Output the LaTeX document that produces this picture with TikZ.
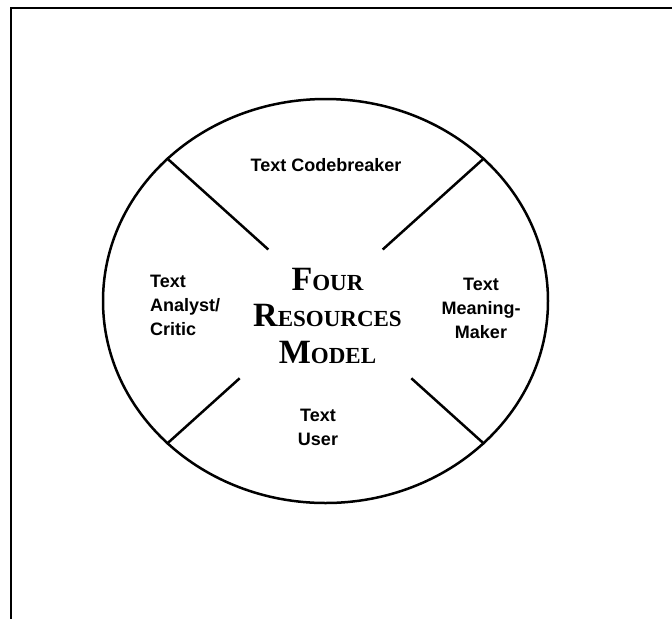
\documentclass[tikz,border=0pt]{standalone}
\usepackage{fontspec}
\setmainfont{Liberation Serif}
\setsansfont{Liberation Sans}
\usetikzlibrary{calc,shapes}

% big capital followed by small capitals
\newcommand{\capsc}[2]{{\fontsize{34}{36.5}\selectfont #1}{\fontsize{23}{36.5}\selectfont #2}}

\begin{document}
\begin{tikzpicture}[x=1pt,y=-1pt,line width=2.5pt,
	role/.style={font=\sffamily\bfseries\fontsize{18}{24}\selectfont, anchor=base, align=center}]
	\useasboundingbox (0,0) rectangle (672,619);

	% page frame, only top and left edge show
	\draw[line width=1.5pt] (672,8) -- (11,8) -- (11,619);

	\node[draw, ellipse, minimum width=445pt, minimum height=404pt, inner sep=0pt] (model) at (325.5,301) {};

	% the four dividing strokes
	\draw (model.138) -- ($(model.center)!0.36!(model.138)$);
	\draw (model.42) -- ($(model.center)!0.36!(model.42)$);
	\draw (model.222) -- ($(model.center)!0.54!(model.222)$);
	\draw (model.318) -- ($(model.center)!0.54!(model.318)$);

	% labels sit on the baseline of their last line
	\node[role] (codebreaker) at (326,171) {Text Codebreaker};
	\node[role, anchor=base west, align=left] (analyst) at (145.5,335) {Text\\Analyst/\\Critic};
	\node[role] (meaning) at (481,338.5) {Text\\Meaning-\\Maker};
	\node[role] (user) at (318,445.5) {Text\\User};

	\node[font=\bfseries\fontsize{34}{36.5}\selectfont, anchor=base, align=center] (title) at (327.5,363)
		{\capsc{F}{OUR}\\\capsc{R}{ESOURCES}\\\capsc{M}{ODEL}};
\end{tikzpicture}
\end{document}
